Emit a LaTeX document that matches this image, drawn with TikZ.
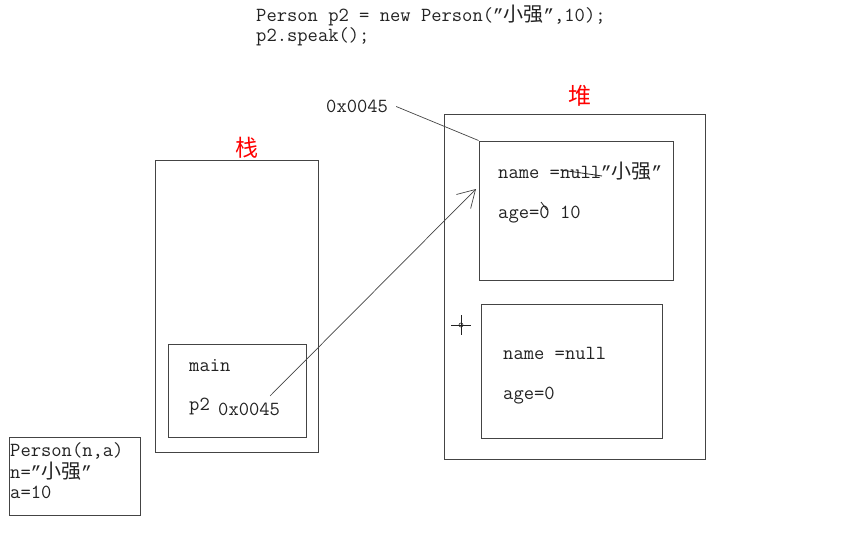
\documentclass[tikz,border=0pt]{standalone}
\usepackage{fontspec}
\newfontfamily\cjk{Noto Sans CJK SC}
\newfontfamily\quotefont{Liberation Mono}
\usepackage{tikz}
\usetikzlibrary{arrows.meta,positioning}
\usepackage{xcolor}
\definecolor{ink}{HTML}{222222}
\definecolor{frame}{HTML}{444444}
\newcommand{\xq}{{\cjk\fontsize{20}{22}\selectfont 小强}}
\newcommand{\cq}{{\quotefont\fontsize{17.5}{22}\selectfont ”}}

\begin{document}
\begin{tikzpicture}[
    x=1pt, y=-1pt,
    box/.style={rectangle, draw=frame, line width=1pt, inner sep=0pt},
    txt/.style={anchor=base west, inner sep=0pt, text height=13pt, text depth=4pt, text=ink, font=\ttfamily\fontsize{20}{22}\selectfont},
    area/.style={text=red, font=\cjk\fontsize{23}{25}\selectfont},
    >={Straight Barb[length=17pt,width=20pt]}
]
    \useasboundingbox (0,0) rectangle (857,535);

    % Code
    \node[txt] (code1) at (256,22) {Person p2 = new Person(\cq\xq\cq,10);};
    \node[txt] (code2) at (256,42) {p2.speak();};

    % Stack
    \node[area] (stacklbl) at (246.5,148) {栈};
    \node[box, minimum width=163pt, minimum height=292pt] (stack) at (236.5,306) {};
    \node[box, minimum width=138pt, minimum height=93pt] (mainf) at (237,390.5) {};
    \node[txt] (mainlbl) at (189,371) {main};
    \node[txt] (p2) at (189,410) {p2};
    \node[txt] (ref) at (218,415) {0x0045};

    % Heap
    \node[area] (heaplbl) at (579.5,96) {堆};
    \node[box, minimum width=261pt, minimum height=345pt] (heap) at (574.5,286.5) {};
    \node[box, minimum width=194pt, minimum height=139pt] (objA) at (576,210.5) {};
    \node[box, minimum width=181pt, minimum height=134pt] (objB) at (571.5,371) {};
    \node[txt] (addr) at (326,113) {0x0045};

    \node[txt] (nameA) at (498,178) {name =null\cq\xq\cq};
    \node[txt] (ageA) at (498,218) {age=0 10};
    \node[txt] (nameB) at (503,359) {name =null};
    \node[txt] (ageB) at (503,399) {age=0};

    % Constructor arguments
    \node[box, minimum width=131pt, minimum height=78pt] (args) at (74.5,476) {};
    \node[txt] (argsig) at (10,456.5) {Person(n,a)};
    \node[txt] (argn) at (10,478.5) {n=\cq\xq\cq};
    \node[txt] (arga) at (10,498.5) {a=10};

    % Connectors
    \coordinate (tip) at (476,189);
    \draw[frame, line width=0.7pt] (addr.east) ++(8pt,2pt) -- (objA.north west);
    \draw[->, frame, line width=0.7pt] ([xshift=-10pt,yshift=6pt]ref.north east) -- (tip);

    % Edits
    \draw[ink, line width=0.8pt] (561,170) -- (602,176);
    \draw[ink, line width=0.8pt] (541,202) -- (547,210);

    % Cursor
    \draw[ink, line width=0.7pt] (451,325) -- (471,325) (461,315) -- (461,335);
    \draw[ink, line width=0.6pt] (461,325) circle (2pt);
\end{tikzpicture}
\end{document}
